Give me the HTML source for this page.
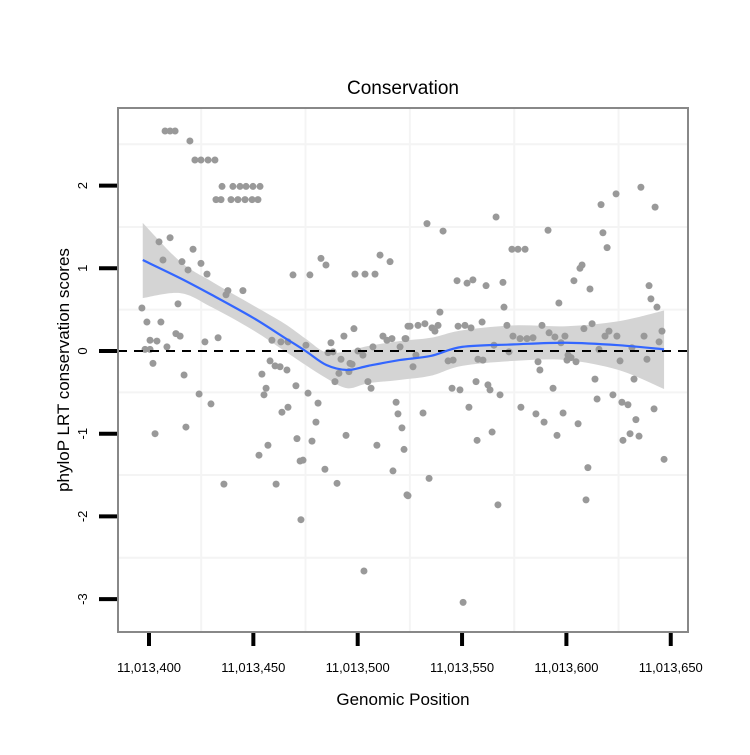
<!DOCTYPE html>
<html><head><meta charset="utf-8"><style>
body{margin:0;background:#fff;}
svg text{font-family:"Liberation Sans",sans-serif;}
</style></head><body>
<svg id="chart" width="750" height="750" xmlns="http://www.w3.org/2000/svg">
<rect width="750" height="750" fill="#fff"/>
<text x="403" y="94" font-size="19" text-anchor="middle">Conservation</text>
<g id="grid"></g>
<g id="band"></g>
<g id="pts"></g>
<line x1="118" x2="688" y1="351" y2="351" stroke="#000" stroke-width="2" stroke-dasharray="9,7"/>
<g id="fit"></g>
<rect x="118" y="108" width="570" height="524" fill="none" stroke="#888" stroke-width="2"/>
<g id="axes"></g>
<text x="403" y="705" font-size="17" text-anchor="middle">Genomic Position</text>
<text transform="translate(69,370) rotate(-90)" font-size="17" text-anchor="middle">phyloP LRT conservation scores</text>
</svg>
<script>
const xBase = 11013400;
const xTicks = [0, 50, 100, 150, 200, 250];
const xTickLabels = ["11,013,400","11,013,450","11,013,500","11,013,550","11,013,600","11,013,650"];
const yTicks = [2, 1, 0, -1, -2, -3];
const yTickLabels = ["2","1","0","-1","-2","-3"];
const ptX = [7.7,10.1,12.5,19.6,22.0,24.9,28.3,31.6,35.0,40.2,43.6,46.5,49.8,53.2,32.1,34.5,39.3,42.6,46.0,49.4,52.2,
10.1,4.8,6.7,15.8,18.7,21.1,24.9,27.8,37.8,36.9,45.0,13.9,-3.4,-1.0,5.7,12.9,14.9,0.5,3.8,-1.9,0.5,8.6,26.8,33.1,1.9,16.8,24.0,29.7,2.9,17.7,35.9,
69.0,77.1,82.4,84.8,98.7,103.5,108.3,110.7,115.5,58.9,63.2,66.6,75.2,58.0,60.4,62.8,66.1,54.1,56.1,55.1,70.4,76.2,81.0,66.6,63.7,80.0,70.9,78.1,57.0,52.7,72.4,73.8,84.3,90.1,60.9,72.8,103.0,
87.2,85.8,88.2,93.4,98.2,92.0,96.3,97.3,91.0,95.8,89.1,100.1,102.5,107.3,104.9,106.4,94.4,109.2,112.1,114.0,116.4,120.3,122.7,124.1,118.4,119.3,121.2,122.2,116.9,123.6,
133.2,140.9,166.3,191.2,173.9,176.8,180.2,147.6,152.4,155.2,161.5,169.6,170.1,139.4,196.4,203.6,207.5,206.5,211.3,216.6,223.8,235.7,242.5,217.5,219.5,239.6,240.5,243.4,
125.1,128.9,132.2,135.6,137.0,138.5,123.1,148.1,151.4,154.3,159.6,171.5,174.4,177.8,181.1,184.0,165.3,172.5,188.3,191.7,194.5,197.4,199.3,208.4,212.3,218.5,220.4,224.2,215.6,231.4,237.2,245.8,244.4,238.6,225.7,232.4,213.7,
127.9,126.5,143.3,145.7,157.6,160.0,186.4,187.3,200.8,202.2,200.3,204.6,
145.2,149.0,156.7,162.4,163.4,168.2,193.6,153.3,131.3,178.2,185.4,189.3,198.4,205.6,195.5,214.7,222.3,226.6,229.5,242.0,233.3,164.4,157.2,227.1,230.5,234.8,210.3,246.8,134.2,124.1,167.2,209.4,150.5];
const ptY = [2.66,2.66,2.66,2.54,2.31,2.31,2.31,2.31,1.99,1.99,1.99,1.99,1.99,1.99,1.83,1.83,1.83,1.83,1.83,1.83,1.83,
1.37,1.32,1.10,1.08,0.98,1.23,1.06,0.93,0.73,0.68,0.73,0.57,0.52,0.35,0.35,0.21,0.18,0.13,0.12,0.02,0.02,0.05,0.11,0.16,-0.15,-0.29,-0.52,-0.64,-1.00,-0.92,-1.61,
0.92,0.92,1.12,1.04,0.93,0.93,0.93,1.16,1.08,0.13,0.11,0.11,0.07,-0.12,-0.18,-0.19,-0.23,-0.28,-0.45,-0.53,-0.42,-0.51,-0.63,-0.68,-0.74,-0.86,-1.06,-1.09,-1.14,-1.26,-1.33,-1.32,-1.43,-1.60,-1.61,-2.04,-2.66,
0.10,-0.02,-0.01,0.18,0.27,-0.10,-0.15,-0.16,-0.27,-0.25,-0.37,0.00,-0.05,0.05,-0.37,-0.45,-1.02,-1.14,0.18,0.13,0.15,0.05,0.15,0.30,-0.62,-0.76,-0.93,-1.19,-1.45,-1.74,
1.54,1.45,1.62,1.46,1.23,1.23,1.23,0.85,0.82,0.86,0.79,0.83,0.53,0.47,0.58,0.85,1.04,1.00,0.75,1.77,1.90,1.98,1.74,1.43,1.25,0.79,0.63,0.53,
0.30,0.31,0.33,0.28,0.24,0.31,0.15,0.30,0.31,0.28,0.35,0.31,0.18,0.15,0.15,0.16,0.07,-0.01,0.31,0.22,0.17,0.10,0.18,0.27,0.33,0.18,0.24,0.18,0.02,0.04,0.18,0.24,0.11,-0.10,-0.12,-0.34,-0.34,
-0.05,-0.19,-0.12,-0.11,-0.10,-0.11,-0.13,-0.23,-0.05,-0.08,-0.11,-0.13,
-0.45,-0.47,-0.37,-0.41,-0.47,-0.53,-0.45,-0.68,-0.75,-0.68,-0.76,-0.86,-0.75,-0.88,-1.02,-0.58,-0.53,-0.62,-0.65,-0.70,-0.83,-0.98,-1.08,-1.08,-1.00,-1.03,-1.41,-1.31,-1.54,-1.75,-1.86,-1.80,-3.04];
const fitX = [-3,15,30,50,65,75,85,95,105,120,135,150,175,200,225,246.8];
const fitY = [1.10,0.88,0.68,0.40,0.16,0.0,-0.17,-0.23,-0.18,-0.11,-0.06,0.05,0.08,0.10,0.07,0.02];
const fitLo = [0.64,0.70,0.53,0.25,0.00,-0.17,-0.33,-0.45,-0.39,-0.35,-0.30,-0.18,-0.12,-0.11,-0.23,-0.46];
const fitHi = [1.55,1.08,0.84,0.55,0.33,0.15,-0.02,0.00,0.06,0.12,0.16,0.25,0.31,0.30,0.36,0.49];

const sx = v => 149 + v * 2.087;
const sy = v => 351 - v * 82.7;
const NS = "http://www.w3.org/2000/svg";
function mk(tag, parent, attrs){const e=document.createElementNS(NS,tag);for(const k in attrs)e.setAttribute(k,attrs[k]);parent.appendChild(e);return e;}
// Catmull-Rom smooth path through points (continuing an existing path)
function smooth(p, start){
  let d = start ? 'M'+p[0][0]+','+p[0][1] : 'L'+p[0][0]+','+p[0][1];
  for(let i=0;i<p.length-1;i++){
    const p0=p[i-1]||p[i], p1=p[i], p2=p[i+1], p3=p[i+2]||p2;
    const c1=[p1[0]+(p2[0]-p0[0])/6, p1[1]+(p2[1]-p0[1])/6];
    const c2=[p2[0]-(p3[0]-p1[0])/6, p2[1]-(p3[1]-p1[1])/6];
    d+='C'+c1[0]+','+c1[1]+' '+c2[0]+','+c2[1]+' '+p2[0]+','+p2[1];
  }
  return d;
}

const grid = document.getElementById('grid');
[25,75,125,175,225].forEach(v=>{
  const l=mk('line',grid,{x1:sx(v),x2:sx(v),y1:109,y2:631,stroke:'#f4f4f4','stroke-width':2});
  
  
});
[2.5,1.5,0.5,-0.5,-1.5,-2.5].forEach(v=>{
  const l=mk('line',grid,{x1:119,x2:687,y1:sy(v),y2:sy(v),stroke:'#f4f4f4','stroke-width':2});
  
  
});

const band = document.getElementById('band');
const hiPts = fitX.map((x,i)=>[sx(x),sy(fitHi[i])]);
const loPts = fitX.map((x,i)=>[sx(x),sy(fitLo[i])]).reverse();
const bp=mk('path',band,{d:smooth(hiPts,true)+smooth(loPts,false)+'Z',fill:'#d4d4d4'});



const pts = document.getElementById('pts');
ptX.forEach((x,i)=>{
  const c=mk('circle',pts,{cx:sx(x),cy:sy(ptY[i]),r:3.5,fill:'#999'});
  
  
});

const fit = document.getElementById('fit');
const fl=mk('path',fit,{d:smooth(fitX.map((x,i)=>[sx(x),sy(fitY[i])]),true),fill:'none',stroke:'#3366ff','stroke-width':2.2,'stroke-linejoin':'round'});



const axes = document.getElementById('axes');
xTicks.forEach((v,i)=>{
  const t=mk('line',axes,{x1:sx(v),x2:sx(v),y1:633,y2:646,stroke:'#000','stroke-width':4});
  
  
  const tx=mk('text',axes,{x:sx(v),y:672,'font-size':13,'text-anchor':'middle'});
  tx.textContent=xTickLabels[i];
  
  
});
yTicks.forEach((v,i)=>{
  const t=mk('line',axes,{x1:99,x2:117,y1:sy(v),y2:sy(v),stroke:'#000','stroke-width':4});
  
  
  const tx=mk('text',axes,{transform:'translate(87,'+sy(v)+') rotate(-90)','font-size':13,'text-anchor':'middle'});
  tx.textContent=yTickLabels[i];
  
  
});
</script>
</body></html>
